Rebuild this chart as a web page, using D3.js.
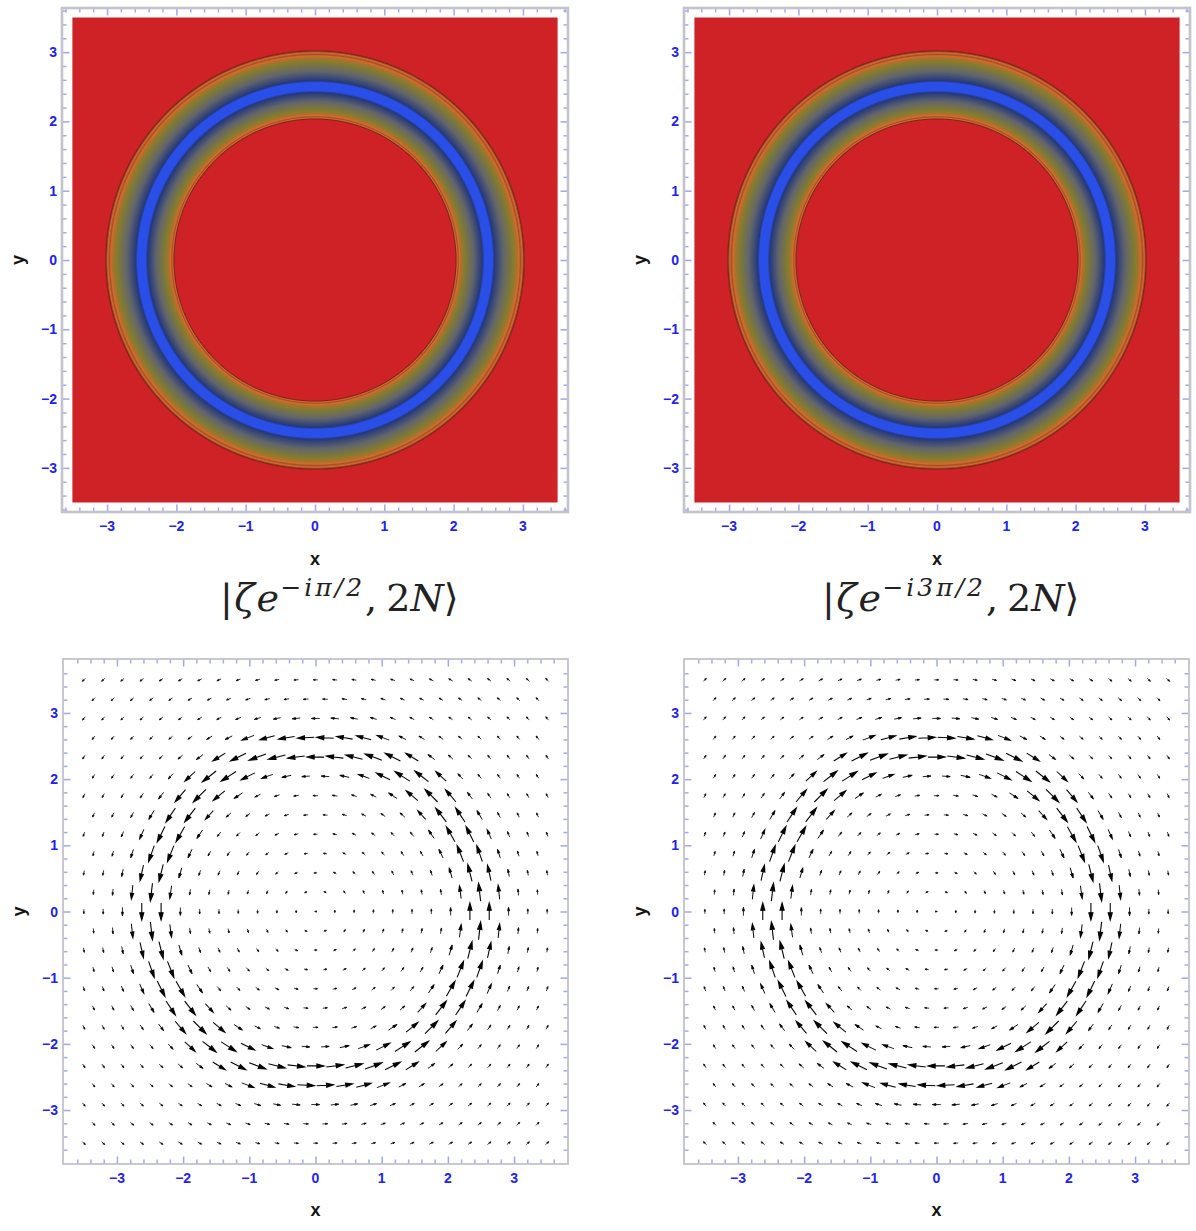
<!DOCTYPE html>
<html>
<head>
<meta charset="utf-8">
<script src="https://cdnjs.cloudflare.com/ajax/libs/d3/7.8.5/d3.min.js"></script>
<style>
body { margin: 0; background: #fff; }
svg { display: block; }
.tick-label { font-family: "Liberation Sans", sans-serif; font-weight: 700; font-size: 14px; fill: #2222f0; }
.axis-title { font-family: "Liberation Sans", sans-serif; font-weight: 700; font-size: 18px; fill: #151515; }
.state { font-family: "DejaVu Serif", serif; fill: #222; }
</style>
</head>
<body>
<div id="chart"></div>
<script>
// tick values
var majorTicks = [-3, -2, -1, 0, 1, 2, 3];
var minorTicks = [-3.6, -3.4, -3.2, -2.8, -2.6, -2.4, -2.2, -1.8, -1.6, -1.4, -1.2, -0.8, -0.6, -0.4, -0.2,
    0.2, 0.4, 0.6, 0.8, 1.2, 1.4, 1.6, 1.8, 2.2, 2.4, 2.6, 2.8, 3.2, 3.4, 3.6];

// density plot: radius -> level
var ringRadius = [2.02, 2.035, 2.05, 2.065, 2.085, 2.105, 2.16, 2.29, 2.415, 2.445, 2.56, 2.585, 2.72, 2.86, 2.92, 2.945, 2.965, 2.99, 3.015, 3.035];
var ringLevel = [0, 0.02, 0.04, 0.06, 0.08, 0.1, 0.3, 0.55, 0.8, 1, 1, 0.8, 0.55, 0.3, 0.1, 0.08, 0.06, 0.04, 0.02, 0];

// vector plot sample rows (staggered grid)
var sampleEven = [-3.5, -3.208, -2.917, -2.625, -2.333, -2.042, -1.75, -1.458, -1.167, -0.875, -0.583, -0.292, 0,
    0.292, 0.583, 0.875, 1.167, 1.458, 1.75, 2.042, 2.333, 2.625, 2.917, 3.208, 3.5];
var sampleOdd = [-3.354, -3.063, -2.771, -2.479, -2.188, -1.896, -1.604, -1.313, -1.021, -0.729, -0.438, -0.146,
    0.146, 0.438, 0.729, 1.021, 1.313, 1.604, 1.896, 2.188, 2.479, 2.771, 3.063, 3.354];

// arrow size against radius, estimated from the bottom panels
var speedRadius = [0, 0.3, 1, 1.46, 1.75, 1.93, 2.04, 2.1, 2.22, 2.33, 2.5, 2.62, 2.8, 2.92, 3.0, 3.2, 3.5, 5];
var speedValue = [0.1, 0.16, 0.22, 0.26, 0.29, 0.33, 0.44, 0.56, 0.74, 0.95, 1, 0.95, 0.78, 0.46, 0.4, 0.3, 0.26, 0.24];

var supText = ["\u2212i\u03c0/2", "\u2212i3\u03c0/2"];

var svg = d3.select("#chart").append("svg").attr("width", 1196).attr("height", 1231);
var defs = svg.append("defs");
defs.append("filter").attr("id", "soft").append("feGaussianBlur").attr("stdDeviation", 0.7);
defs.append("filter").attr("id", "softer").append("feGaussianBlur").attr("stdDeviation", 0.4);

var levelColor = d3.scaleLinear()
    .domain([0, 0.02, 0.04, 0.06, 0.08, 0.1, 0.3, 0.55, 0.8, 1])
    .range(["#cf2128", "#76281f", "#da6a2c", "#9c5228", "#da6a2c", "#b0702c", "#837c2e", "#62656c", "#24387a", "#2a50e8"]);

var arrowLength = d3.scaleLinear().domain([0, 1]).range([0, 18]);
var speedAt = d3.scaleLinear().domain(speedRadius).range(speedValue);

function frame(g, x, y, frameWidth) {
    var w = x.range()[1] - x.range()[0], h = y.range()[0] - y.range()[1];
    var noLabel = function() { return ""; };
    var sides = [
        [d3.axisBottom, x, "translate(0," + y.range()[0] + ")"],
        [d3.axisTop, x, "translate(0," + y.range()[1] + ")"],
        [d3.axisLeft, y, "translate(" + x.range()[0] + ",0)"],
        [d3.axisRight, y, "translate(" + x.range()[1] + ",0)"]
    ];
    sides.forEach(function(s) {
        var a = g.append("g").attr("transform", s[2])
            .call(s[0](s[1]).tickValues(minorTicks).tickSize(-4.5).tickFormat(noLabel));
        var b = g.append("g").attr("transform", s[2])
            .call(s[0](s[1]).tickValues(majorTicks).tickSize(-7.5).tickFormat(noLabel));
        a.selectAll(".domain").remove();
        b.selectAll(".domain").remove();
        a.selectAll("line").attr("stroke", "#a4aaf4").attr("stroke-width", 1.5);
        b.selectAll("line").attr("stroke", "#a0a6f4").attr("stroke-width", 1.5);
    });
    g.append("rect")
        .attr("x", x.range()[0]).attr("y", y.range()[1])
        .attr("width", w).attr("height", h)
        .attr("fill", "none").attr("stroke", "#c2c3cb").attr("stroke-width", frameWidth);
}

function labels(g, x, y, xTitleY, yTitleX) {
    g.selectAll(".xl").data(majorTicks).enter().append("text")
        .attr("class", "tick-label").attr("text-anchor", "middle")
        .attr("x", function(d) { return x(d); })
        .attr("y", y.range()[0] + 19)
        .text(function(d) { return d < 0 ? "\u2212" + (-d) : d; });
    g.selectAll(".yl").data(majorTicks).enter().append("text")
        .attr("class", "tick-label").attr("text-anchor", "end")
        .attr("x", x.range()[0] - 5)
        .attr("y", function(d) { return y(d) + 5; })
        .text(function(d) { return d < 0 ? "\u2212" + (-d) : d; });
    g.append("text").attr("class", "axis-title").attr("text-anchor", "middle")
        .attr("x", x(0)).attr("y", xTitleY).text("x");
    g.append("text").attr("class", "axis-title").attr("text-anchor", "middle")
        .attr("transform", "translate(" + yTitleX + "," + y(0) + ") rotate(-90)").text("y");
}

function densityPanel(left, gradId) {
    var x = d3.scaleLinear().domain([-3.65, 3.65]).range([left, left + 506]);
    var y = d3.scaleLinear().domain([-3.637, 3.637]).range([512, 8]);
    var g = svg.append("g");

    var grad = defs.append("radialGradient").attr("id", gradId).attr("gradientUnits", "userSpaceOnUse")
        .attr("cx", x(0)).attr("cy", y(0)).attr("r", x(3.1) - x(0));
    ringRadius.forEach(function(r, k) {
        grad.append("stop").attr("offset", r / 3.1).attr("stop-color", levelColor(ringLevel[k]));
    });

    var plot = g.append("g").attr("filter", "url(#softer)");
    plot.append("rect")
        .attr("x", x(-3.5)).attr("y", y(3.5))
        .attr("width", x(3.5) - x(-3.5)).attr("height", y(-3.5) - y(3.5))
        .attr("fill", levelColor(0));
    plot.append("circle").attr("cx", x(0)).attr("cy", y(0)).attr("r", x(3.1) - x(0)).attr("fill", "url(#" + gradId + ")");

    frame(g, x, y, 2.6);
    labels(g, x, y, 565, left - 38);
}

function arrowPath(len) {
    var h = Math.max(1.9, len * 0.42), w = Math.max(0.7, len * 0.12);
    return "M" + (-len / 2) + ",0L" + (len / 2 - h) + ",0"
        + "M" + (len / 2) + ",0L" + (len / 2 - h) + "," + w + "L" + (len / 2 - h) + "," + (-w) + "Z";
}

function vectorPanel(left, spin) {
    var x = d3.scaleLinear().domain([-3.815, 3.815]).range([left, left + 505]);
    var y = d3.scaleLinear().domain([-3.815, 3.815]).range([1164, 659]);
    var g = svg.append("g");

    var points = [];
    sampleEven.forEach(function(py, k) {
        (k % 2 === 0 ? sampleEven : sampleOdd).forEach(function(px) {
            points.push({ x: px, y: py, len: arrowLength(speedAt(Math.hypot(px, py))) });
        });
    });

    g.append("g").attr("filter", "url(#soft)").selectAll("path").data(points).enter().append("path")
        .attr("transform", function(d) {
            var a = Math.atan2(-d.x * spin, -d.y * spin) * 180 / Math.PI;
            return "translate(" + x(d.x) + "," + y(d.y) + ") rotate(" + a + ")";
        })
        .attr("d", function(d) { return arrowPath(d.len); })
        .attr("fill", "#000").attr("stroke", "#000")
        .attr("stroke-width", function(d) { return 0.6 + d.len * 0.028; });

    frame(g, x, y, 1.8);
    labels(g, x, y, 1216, left - 38);
}

function stateTitle(left, sup) {
    var t = svg.append("text").attr("class", "state").attr("x", left).attr("y", 611).attr("font-size", 38);
    t.append("tspan").attr("letter-spacing", 1.5).text("|");
    t.append("tspan").attr("letter-spacing", 1.5).attr("font-style", "italic").text("\u03b6e");
    t.append("tspan").attr("font-size", 25).attr("letter-spacing", 3).attr("dy", -15).attr("font-style", "italic").text(sup);
    t.append("tspan").attr("dy", 15).text(",");
    t.append("tspan").attr("dx", 9).text("2");
    t.append("tspan").attr("font-style", "italic").text("N");
    t.append("tspan").text("\u27e9");
}

densityPanel(62, "ringA");
densityPanel(684, "ringB");
stateTitle(220, supText[0]);
stateTitle(822, supText[1]);
vectorPanel(63, 1);
vectorPanel(684, -1);
</script>
</body>
</html>
